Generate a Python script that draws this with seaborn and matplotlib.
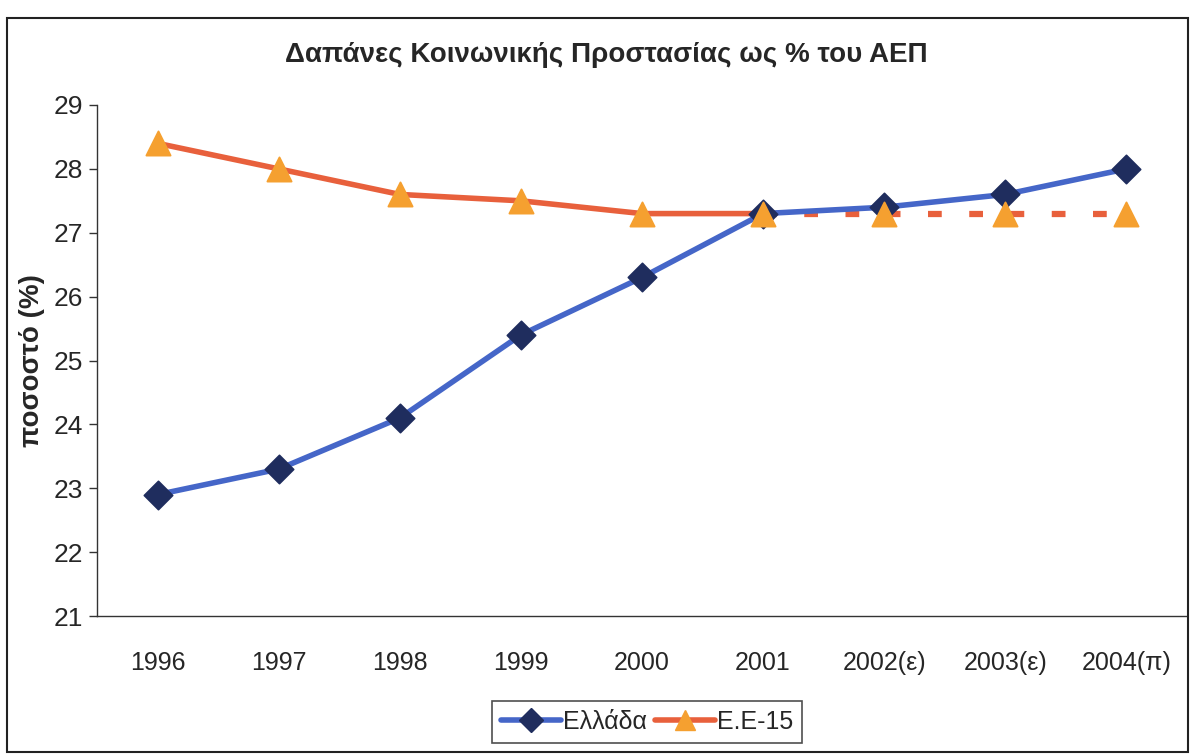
import matplotlib

matplotlib.use("Agg")
import matplotlib.pyplot as plt
import numpy as np
import pandas as pd
import seaborn as sns
from matplotlib.lines import Line2D
from matplotlib.patches import Rectangle

years = ["1996", "1997", "1998", "1999", "2000", "2001", "2002(ε)", "2003(ε)", "2004(π)"]
greece = [22.9, 23.3, 24.1, 25.4, 26.3, 27.3, 27.4, 27.6, 28.0]
eu15 = [28.4, 28.0, 27.6, 27.5, 27.3, 27.3, 27.3, 27.3, 27.3]
n_actual = 6  # EU-15 values up to 2001 are actual, the rest are dashed

sns.set_theme(style="white")
plt.rcParams["font.family"] = ["Liberation Sans", "DejaVu Sans"]

pos = np.arange(len(years))
df_gr = pd.DataFrame({"x": pos, "y": greece})
df_eu = pd.DataFrame({"x": pos, "y": eu15})

fig = plt.figure(figsize=(11.95, 7.55), dpi=100)
ax = fig.add_axes([97 / 1195, 1 - 616 / 755, 1090 / 1195, 511 / 755])

blue_line = "#4566c8"
blue_mark = "#1f2d5e"
red_line = "#e8603c"
orange_mark = "#f5a030"

sns.lineplot(data=df_eu.iloc[:n_actual], x="x", y="y", ax=ax, color=red_line, lw=4, zorder=2)
sns.lineplot(data=df_eu.iloc[n_actual - 1:], x="x", y="y", ax=ax, color=red_line, lw=4.5,
             dashes=False, linestyle=(0, (2.2, 4.4)), zorder=2)
sns.lineplot(data=df_gr, x="x", y="y", ax=ax, color=blue_line, lw=4, zorder=3)
sns.scatterplot(data=df_gr, x="x", y="y", ax=ax, marker="D", s=210, color=blue_mark,
                edgecolor=blue_mark, zorder=4)
sns.scatterplot(data=df_eu, x="x", y="y", ax=ax, marker="^", s=300, color=orange_mark,
                edgecolor=orange_mark, zorder=5)

ax.set_xlim(-0.5, len(years) - 0.5)
ax.set_ylim(21, 29)
ax.set_yticks(range(21, 30))
ax.set_yticklabels([str(v) for v in range(21, 30)], fontsize=19)
ax.set_xticks(pos)
ax.set_xticklabels(years, fontsize=18)
ax.set_xticks(np.arange(-0.5, len(years)), minor=True)
ax.tick_params(axis="x", which="major", length=0, pad=25)
ax.tick_params(axis="x", which="minor", length=6, width=1, color="#333333", direction="out")
ax.tick_params(axis="y", length=6, width=1, color="#333333", direction="out", left=True, pad=4)
ax.set_xlabel("")
ax.set_ylabel("ποσοστό (%)", fontsize=20, fontweight="bold", labelpad=6)

for side in ["top", "right"]:
    ax.spines[side].set_visible(False)
for side in ["left", "bottom"]:
    ax.spines[side].set_color("#333333")
    ax.spines[side].set_linewidth(1)

fig.text(0.507, 1 - 55 / 755, "Δαπάνες Κοινωνικής Προστασίας ως % του ΑΕΠ", ha="center", va="center",
         fontsize=20, fontweight="bold", family=["Liberation Sans Narrow", "Liberation Sans", "DejaVu Sans"])

handles = [
    Line2D([], [], color=blue_line, lw=4, marker="D", markersize=12,
           markerfacecolor=blue_mark, markeredgecolor=blue_mark),
    Line2D([], [], color=red_line, lw=4, marker="^", markersize=14,
           markerfacecolor=orange_mark, markeredgecolor=orange_mark),
]
leg = fig.legend(handles, ["Ελλάδα", "Ε.Ε-15"], loc="center", bbox_to_anchor=(647 / 1195, 1 - 722 / 755),
                 ncol=2, fontsize=18, frameon=True, fancybox=False, handlelength=2.4,
                 handletextpad=0.1, columnspacing=0.3, borderpad=0.35)
leg.get_frame().set_edgecolor("#222222")
leg.get_frame().set_linewidth(1.2)

fig.patches.append(Rectangle((0.006, 0.004), 0.988, 0.972, transform=fig.transFigure,
                             fill=False, edgecolor="#222222", lw=1.5))

fig.savefig("out.png", dpi=100)
